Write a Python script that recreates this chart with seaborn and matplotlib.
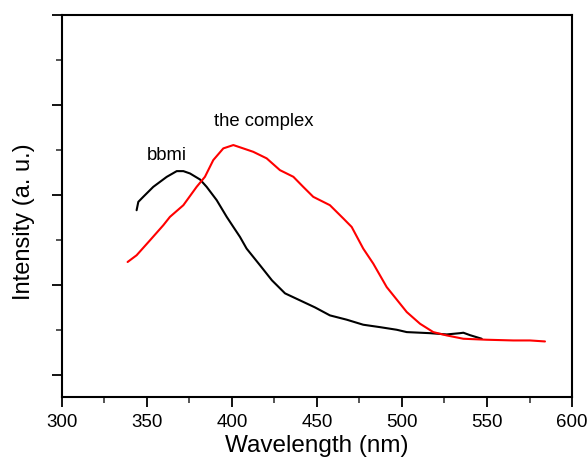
import numpy as np
import pandas as pd
import matplotlib
matplotlib.use("Agg")
import matplotlib.pyplot as plt
import seaborn as sns
from matplotlib.ticker import MultipleLocator

# ------------------------------------------------------------------
# DATA (arbitrary intensity units)
# ------------------------------------------------------------------

bbmi_nm = [343.9, 344.9, 347.8, 353.7, 361.6, 367.5, 371.4, 375.3, 381.2,
           385.1, 391.0, 396.9, 400.8, 404.7, 408.6, 416.5, 423.5, 431.2,
           440.0, 448.8, 457.6, 467.5, 477.2, 487.1, 496.9, 502.8, 516.5,
           526.3, 534.1, 536.1, 540.0, 546.9]
bbmi_int = [182.8, 192.1, 197.7, 208.8, 219.9, 226.3, 226.3, 223.7, 217.0,
            208.8, 194.0, 175.4, 164.2, 153.1, 140.1, 121.5, 104.8, 90.3,
            82.5, 74.7, 65.8, 61.0, 55.4, 52.7, 49.8, 47.2, 46.0,
            44.6, 46.0, 46.5, 43.8, 39.8]

complex_nm = [338.6, 343.9, 351.8, 359.6, 363.5, 371.4, 379.2, 384.1, 389.0,
              394.9, 400.8, 406.6, 412.5, 420.4, 428.2, 436.1, 441.9, 447.8,
              457.6, 465.5, 470.4, 477.2, 483.1, 491.0, 502.8, 510.6, 518.4,
              526.3, 536.1, 549.8, 565.5, 575.3, 584.1]
complex_int = [125.2, 132.7, 149.4, 166.1, 175.4, 188.4, 208.8, 220.0, 238.6,
               251.6, 255.3, 251.6, 247.8, 240.5, 227.4, 220.0, 208.8, 197.7,
               188.4, 173.6, 164.2, 140.1, 123.4, 97.3, 69.5, 56.5, 47.2,
               43.5, 39.8, 38.7, 37.9, 37.9, 36.8]

labels = ["bbmi", "the complex"]
label_pos = [(361.6, 244.0), (418.4, 281.5)]

# ------------------------------------------------------------------
# PLOT
# ------------------------------------------------------------------

sns.set_style("ticks")
plt.rcParams["font.family"] = ["Liberation Sans", "DejaVu Sans"]
plt.rcParams.update({"text.color": "black", "axes.labelcolor": "black"})

fig = plt.figure(figsize=(5.88, 4.59), dpi=100)
ax = fig.add_axes([0.1054, 0.1351, 0.8674, 0.8322])

sns.lineplot(x=bbmi_nm, y=bbmi_int, ax=ax, color="black", linewidth=1.5)
sns.lineplot(x=complex_nm, y=complex_int, ax=ax, color="#ff0000", linewidth=1.5)

for text, (x, y) in zip(labels, label_pos):
    ax.text(x, y, text, ha="center", va="center", fontsize=13.3)

ax.set_xlim(300, 600)
ax.set_ylim(-25, 400)
ax.xaxis.set_major_locator(MultipleLocator(50))
ax.xaxis.set_minor_locator(MultipleLocator(25))
ax.yaxis.set_major_locator(MultipleLocator(100))
ax.yaxis.set_minor_locator(MultipleLocator(50))
ax.set_yticklabels([])

ax.tick_params(which="major", direction="out", length=7, width=1.3,
               labelsize=13.5, colors="black")
ax.tick_params(which="minor", direction="out", length=4, width=1.1)
ax.tick_params(axis="x", pad=5)

for side in ["top", "right", "left", "bottom"]:
    ax.spines[side].set_visible(True)
    ax.spines[side].set_linewidth(1.5)
    ax.spines[side].set_color("black")

ax.set_xlabel("Wavelength (nm)", fontsize=17.5, labelpad=3)
ax.set_ylabel("Intensity (a. u.)", fontsize=17)
ax.yaxis.set_label_coords(-0.053, 0.46)

fig.savefig("out.png", dpi=100)
plt.close(fig)
